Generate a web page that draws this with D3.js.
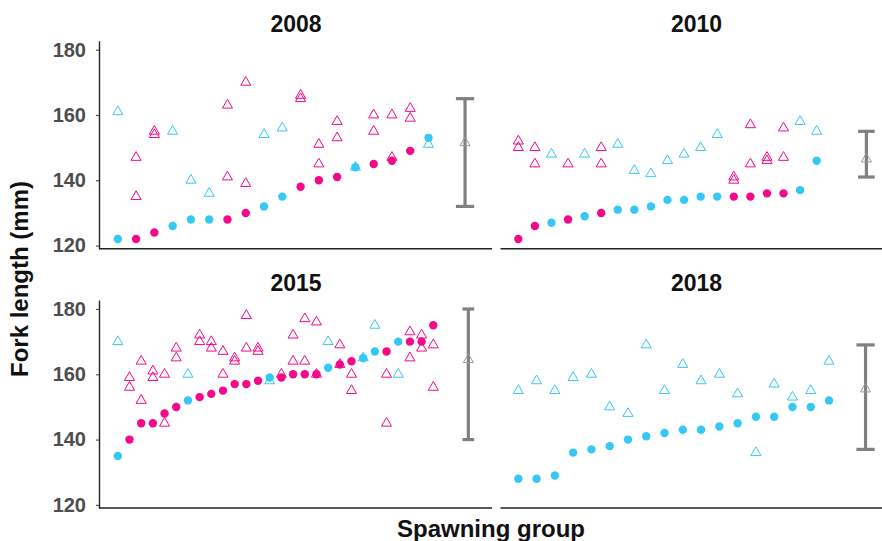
<!DOCTYPE html>
<html>
<head>
<meta charset="utf-8">
<script src="https://cdn.jsdelivr.net/npm/d3@7"></script>
<style>
  html, body { margin: 0; padding: 0; background: #fff; }
  svg text { font-family: "Liberation Sans", Arial, sans-serif; font-weight: bold; }
</style>
</head>
<body>
<svg id="chart" width="882" height="541"></svg>
<script>
// ---- data ----------------------------------------------------------------
const years = ["2008", "2010", "2015", "2018"];

// cross type of each spawning group ("a" or "b")
const type2008 = ["b","a","a","b","b","b","a","a","b","b","a","a","a","b","a","a","a","b"];
const type2010 = ["a","a","b","a","b","a","b","b","b","b","b","b","b","a","a","a","a","b","b"];
const type2015 = ["b","a","a","a","a","a","b","a","a","a","a","a","a","b","a","a","a","a","b","a","a","b","b","a","b","a","a","a"];
const type2018 = ["b","b","b","b","b","b","b","b","b","b","b","b","b","b","b","b","b","b"];

// parental fork length (mm), one per spawning group
const parent2008 = [122,122,124,126,128,128,128,130,132,135,138,140,141,144,145,146,149,153];
const parent2010 = [122,126,127,128,129,130,131,131,132,134,134,135,135,135,135,136,136,137,146];
const parent2015 = [135,140,145,145,148,150,152,153,154,155,157,157,158,159,159,160,160,160,162,163,164,165,167,167,170,170,170,175];
const parent2018 = [128,128,129,136,137,138,140,141,142,143,143,144,145,147,147,150,150,152];

// offspring fork length (mm) for each spawning group
const offspring2008 = [[161],[147,135],[155,154],[155],[140],[136],[163,141],[170,139],[154],[156],
  [166,165],[151,145],[158,153],[144],[160,155],[160,147],[162,159],[151]];
const offspring2010 = [[152,150],[150,145],[148],[145],[148],[150,145],[151],[143],[142],[146],
  [148],[150],[154],[141,140],[157,145],[147,146],[156,147],[158],[155]];
const offspring2015 = [[170],[159,156],[164,152],[161,159],[160,145],[168,165],[160],[172,170],[170,168],[167,160],
  [165,164],[178,168],[168,167],[158],[160],[172,164],[177,164],[176,160],[170],[169,163],
  [160,155],[165],[175],[160,145],[160],[173,165],[172,168],[169,156]];
const offspring2018 = [[155],[158],[155],[159],[160],[150],[148],[169],[155],[163],
  [158],[160],[154],[136],[157],[153],[155],[164]];

// summary of offspring fork length per year
const summaryPos   = [20, 22, 31, 20];
const summaryMean  = [151.5, 146.5, 164.5, 155.5];
const summaryLower = [132, 141, 140, 137];
const summaryUpper = [165, 155, 180, 169];

const yTicks = [120, 140, 160, 180];

const types = [type2008, type2010, type2015, type2018];
const parents = [parent2008, parent2010, parent2015, parent2018];
const offspring = [offspring2008, offspring2010, offspring2015, offspring2018];

// ---- layout --------------------------------------------------------------
const svg = d3.select("#chart");
const panelW = 392, panelH = 207;
const colX = [100, 500.5];
const rowY = [41.2, 300.5];

const color = d3.scaleOrdinal().domain(["a", "b"]).range(["#f5088a", "#35c8f5"]);
const triangle = d3.symbol().type(d3.symbolTriangle).size(44);

const y = d3.scaleLinear().domain([119.2, 182.6]).range([panelH, 0]);

years.forEach((year, k) => {
  const col = k % 2, row = Math.floor(k / 2);
  const g = svg.append("g").attr("transform", `translate(${colX[col]},${rowY[row]})`);

  const n = parents[k].length;
  const lo = 1, hi = summaryPos[k] + 0.5, r = hi - lo;
  const x = d3.scaleLinear().domain([lo - 0.05 * r, hi + 0.05 * r]).range([0, panelW]);

  const groups = d3.range(n).map(i => ({
    pos: i + 1, type: types[k][i], parent: parents[k][i], kids: offspring[k][i]
  }));

  // panel title
  g.append("text")
    .attr("x", panelW / 2).attr("y", -9.5)
    .attr("text-anchor", "middle")
    .attr("font-size", 23).attr("fill", "#111")
    .text(year);

  // x axis line (no ticks)
  g.append("line")
    .attr("x1", col === 0 ? -1 : 0).attr("x2", panelW)
    .attr("y1", panelH + 0.5).attr("y2", panelH + 0.5)
    .attr("stroke", "#222").attr("stroke-width", 1.4);

  // y axis on the left column only
  if (col === 0) {
    const ax = g.append("g")
      .call(d3.axisLeft(y).tickValues(yTicks).tickSize(4).tickPadding(10).tickFormat(d3.format("d")));
    ax.select(".domain").remove();
    ax.selectAll(".tick line").attr("stroke", "#555").attr("stroke-width", 1.2);
    ax.selectAll(".tick text")
      .attr("font-size", 20).attr("fill", "#4d4d4d")
      .attr("font-family", "'Liberation Sans', Arial, sans-serif").attr("font-weight", "bold");
    g.append("line")
      .attr("x1", -0.5).attr("x2", -0.5).attr("y1", 0).attr("y2", panelH + 1)
      .attr("stroke", "#222").attr("stroke-width", 1.4);
  }

  // parents: filled circles
  g.selectAll("circle.parent").data(groups).join("circle")
    .attr("class", "parent")
    .attr("cx", d => x(d.pos)).attr("cy", d => y(d.parent))
    .attr("r", 4.2)
    .attr("fill", d => color(d.type));

  // offspring: open triangles
  const kids = groups.flatMap(d => d.kids.map(v => ({ pos: d.pos, type: d.type, v })));
  g.selectAll("path.kid").data(kids).join("path")
    .attr("class", "kid")
    .attr("d", triangle)
    .attr("transform", d => `translate(${x(d.pos)},${y(d.v)})`)
    .attr("fill", "none")
    .attr("stroke", d => color(d.type))
    .attr("stroke-width", 1);

  // summary: error bar with mean triangle
  const sx = x(summaryPos[k]);
  const capHalf = (x(1.5) - x(1)) ;
  const eb = g.append("g").attr("stroke", "#808080").attr("stroke-width", 3.2);
  eb.append("line").attr("x1", sx).attr("x2", sx)
    .attr("y1", y(summaryUpper[k])).attr("y2", y(summaryLower[k]));
  eb.append("line").attr("x1", sx - capHalf).attr("x2", sx + capHalf)
    .attr("y1", y(summaryUpper[k])).attr("y2", y(summaryUpper[k]));
  eb.append("line").attr("x1", sx - capHalf).attr("x2", sx + capHalf)
    .attr("y1", y(summaryLower[k])).attr("y2", y(summaryLower[k]));
  g.append("path")
    .attr("d", triangle)
    .attr("transform", `translate(${sx},${y(summaryMean[k])})`)
    .attr("fill", "none").attr("stroke", "#9a9a9a").attr("stroke-width", 1);
});

// axis titles
svg.append("text")
  .attr("x", 491).attr("y", 536.5)
  .attr("text-anchor", "middle")
  .attr("font-size", 24).attr("fill", "#111")
  .text("Spawning group");

svg.append("text")
  .attr("transform", "translate(28,279) rotate(-90)")
  .attr("text-anchor", "middle")
  .attr("font-size", 24).attr("fill", "#111")
  .text("Fork length (mm)");
</script>
</body>
</html>
